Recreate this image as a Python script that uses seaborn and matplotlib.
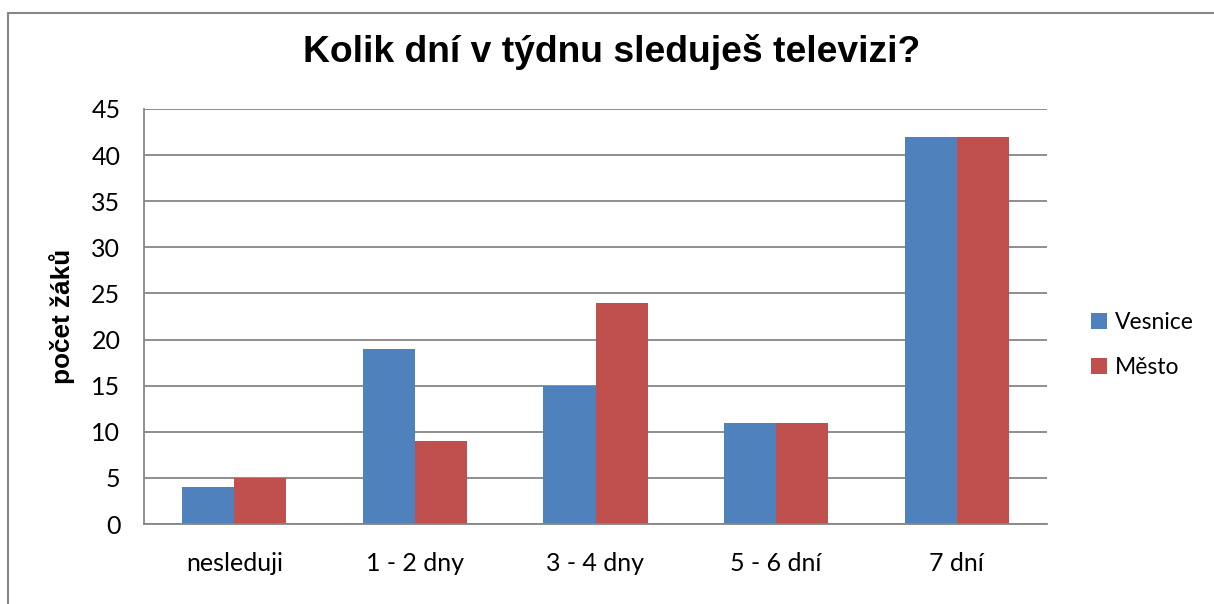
import pandas as pd
import seaborn as sns
import matplotlib.pyplot as plt
from matplotlib.lines import Line2D

# Data
categories = ['nesleduji', '1 - 2 dny', '3 - 4 dny', '5 - 6 dní', '7 dní']
vesnice = [4, 19, 15, 11, 42]
mesto = [5, 9, 24, 11, 42]
series_names = ['Vesnice', 'Město']
colors = ['#4F81BD', '#C0504D']

df = pd.DataFrame({
    'kategorie': categories * 2,
    'pocet': vesnice + mesto,
    'skupina': [series_names[0]] * len(categories) + [series_names[1]] * len(categories),
})

sns.set_style('white')
plt.rcParams['font.family'] = ['Lato', 'DejaVu Sans']
plt.rcParams['text.color'] = 'black'
plt.rcParams['axes.labelcolor'] = 'black'
plt.rcParams['xtick.labelcolor'] = 'black'
plt.rcParams['ytick.labelcolor'] = 'black'

W, H = 1214, 604
fig = plt.figure(figsize=(W / 100, H / 100), dpi=100)
ax = fig.add_axes([144 / W, 1 - 524 / H, (1047 - 144) / W, (524 - 109) / H])

sns.barplot(data=df, x='kategorie', y='pocet', hue='skupina', order=categories,
            hue_order=series_names, palette=colors, width=0.576, saturation=1,
            edgecolor='none', linewidth=0, ax=ax)

grid_col = '#868686'
ax.set_xlim(-0.5, len(categories) - 0.5)
ax.set_ylim(0, 45)
ax.set_yticks(range(0, 50, 5))
ax.yaxis.grid(True, color=grid_col, linewidth=1.3)
ax.set_axisbelow(True)

for side in ['top', 'right']:
    ax.spines[side].set_visible(False)
for side in ['left', 'bottom']:
    ax.spines[side].set_color(grid_col)
    ax.spines[side].set_linewidth(1.3)

# ticks between categories, labels at centres
ax.set_xticks([i - 0.5 for i in range(len(categories) + 1)], minor=True)
ax.tick_params(axis='x', which='major', length=0, pad=20, labelsize=18, labelcolor='black')
ax.tick_params(axis='x', which='minor', length=6, width=1.3, color=grid_col, direction='out')
ax.tick_params(axis='y', length=6, width=1.3, color=grid_col, direction='out', pad=11,
               labelsize=18, labelcolor='black')
ax.set_xlabel('')
ax.set_ylabel('počet žáků', family=['Liberation Sans', 'DejaVu Sans'], fontsize=18.8,
              fontweight='bold', labelpad=12, color='black')

handles, labels = ax.get_legend_handles_labels()
ax.legend(handles, labels, loc='center left', bbox_to_anchor=(1070 / W, 1 - 345 / H),
          bbox_transform=fig.transFigure, frameon=False, fontsize=16.5,
          handlelength=0.7, handleheight=0.7, handletextpad=0.35, labelspacing=1.05)

fig.text(612 / W, 1 - 52 / H, 'Kolik dní v týdnu sleduješ televizi?',
         family=['Liberation Sans', 'DejaVu Sans'], fontsize=26.8, fontweight='bold',
         ha='center', va='center', color='black')

# outer chart border (left and top edges visible)
fig.add_artist(Line2D([7.5 / W, 7.5 / W], [0, 1 - 12.5 / H], transform=fig.transFigure,
                      color=grid_col, linewidth=1.5))
fig.add_artist(Line2D([7.5 / W, 1], [1 - 12.5 / H, 1 - 12.5 / H], transform=fig.transFigure,
                      color=grid_col, linewidth=1.5))

fig.savefig('out.png', dpi=100)
